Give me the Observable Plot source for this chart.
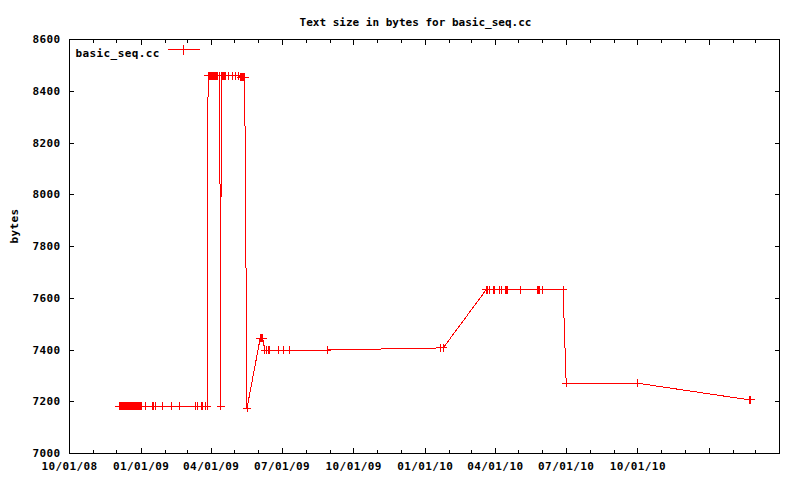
<!DOCTYPE html>
<html><head><meta charset="utf-8">
<script src="https://cdn.jsdelivr.net/npm/d3@7"></script>
<script src="https://cdn.jsdelivr.net/npm/@observablehq/plot@0.6"></script>
<style>html,body{margin:0;padding:0;background:#fff;}</style>
</head><body><div id="chart"></div>
<script>
const titleText = "Text size in bytes for basic_seq.cc";
const yLabel = "bytes";
const seriesName = "basic_seq.cc";

const dates = [
  "2008-12-04","2008-12-05","2008-12-06","2008-12-07","2008-12-08","2008-12-09","2008-12-10","2008-12-11","2008-12-12","2008-12-13","2008-12-14",
  "2008-12-16","2008-12-17","2008-12-18","2008-12-19","2008-12-20","2008-12-21","2008-12-22","2008-12-23","2008-12-24","2008-12-25","2008-12-26","2008-12-27","2008-12-28","2008-12-29","2008-12-30","2008-12-31","2009-01-01",
  "2009-01-06","2009-01-15","2009-01-17","2009-01-19","2009-01-28","2009-02-09","2009-02-19","2009-03-12","2009-03-14","2009-03-20","2009-03-21","2009-03-25","2009-03-27",
  "2009-03-28","2009-03-29","2009-03-30","2009-03-31","2009-04-01","2009-04-02","2009-04-03","2009-04-04","2009-04-05","2009-04-06","2009-04-07","2009-04-08","2009-04-09",
  "2009-04-12","2009-04-13","2009-04-14",
  "2009-04-16","2009-04-17","2009-04-18","2009-04-19","2009-04-20","2009-04-23","2009-04-28","2009-05-02","2009-05-06",
  "2009-05-09","2009-05-10","2009-05-11","2009-05-12","2009-05-13","2009-05-14",
  "2009-05-17",
  "2009-06-03","2009-06-05","2009-06-06",
  "2009-06-09","2009-06-11","2009-06-13","2009-06-15","2009-06-27","2009-07-03","2009-07-10","2009-08-28",
  "2010-01-20","2010-01-24",
  "2010-03-20","2010-03-22","2010-03-24","2010-03-29","2010-03-31","2010-04-06","2010-04-09","2010-04-14","2010-04-15","2010-04-16","2010-04-17","2010-05-03","2010-05-25","2010-05-26","2010-05-27","2010-05-28","2010-06-01","2010-06-27",
  "2010-07-01","2010-09-30",
  "2011-02-22","2011-02-23"
];
const bytes = [
  7182,7182,7182,7182,7182,7182,7182,7182,7182,7182,7182,
  7182,7182,7182,7182,7182,7182,7182,7182,7182,7182,7182,7182,7182,7182,7182,7182,7182,
  7182,7182,7182,7182,7182,7182,7182,7182,7182,7182,7182,7182,7182,
  8460,8460,8460,8460,8460,8460,8460,8460,8460,8460,8460,8460,8460,
  8460,7182,8460,
  8460,8460,8460,8460,8460,8460,8460,8460,8460,
  8455,8455,8455,8455,8455,8455,
  7175,
  7446,7446,7446,
  7400,7400,7400,7400,7400,7400,7400,7400,
  7408,7408,
  7632,7632,7632,7632,7632,7632,7632,7632,7632,7632,7632,7632,7632,7632,7632,7632,7632,7632,
  7272,7272,
  7207,7207
];

const yTicks = [7000, 7200, 7400, 7600, 7800, 8000, 8200, 8400, 8600];
const xMajorTicks = ["2008-10-01","2009-01-01","2009-04-01","2009-07-01","2009-10-01","2010-01-01","2010-04-01","2010-07-01","2010-10-01","2011-01-01","2011-04-01"];
const xLabelDates = ["2008-10-01","2009-01-01","2009-04-01","2009-07-01","2009-10-01","2010-01-01","2010-04-01","2010-07-01","2010-10-01"];
const xLabels = ["10/01/08","01/01/09","04/01/09","07/01/09","10/01/09","01/01/10","04/01/10","07/01/10","10/01/10"];
const xDomain = ["2008-10-01","2011-04-01"];

const parse = d3.utcParse("%Y-%m-%d");
const data = dates.map((d, i) => ({date: parse(d), bytes: bytes[i]}));
const majors = xMajorTicks.map(parse);
const minors = d3.utcMonth.range(parse(xDomain[0]), d3.utcDay.offset(parse(xDomain[1]), 1));
const labelDates = xLabelDates.map(parse);
const labelMap = new Map(labelDates.map((d, i) => [+d, xLabels[i]]));
// legend sample anchored at the top-left corner of the frame (domain corner), offset in pixels
const legendAnchor = [{date: parse(xDomain[0]), bytes: yTicks[yTicks.length - 1]}];

const plus = {draw(ctx, size) {
  const r = Math.sqrt(size / Math.PI);
  ctx.moveTo(-r, 0); ctx.lineTo(r, 0);
  ctx.moveTo(0, -r); ctx.lineTo(0, r);
}};
const legendSym = {draw(ctx) {
  ctx.moveTo(-16, 0); ctx.lineTo(16, 0);
  ctx.moveTo(0, -5); ctx.lineTo(0, 5);
}};
const crisp = {shapeRendering: "crispEdges"};
const red = "#ff0000";

const chart = Plot.plot({
  width: 800, height: 480,
  marginLeft: 69, marginRight: 21, marginTop: 39, marginBottom: 27,
  style: {fontFamily: "'DejaVu Sans Mono', monospace", fontSize: "11px", fontWeight: "bold", letterSpacing: "0.4px", background: "#fff", color: "#000"},
  x: {type: "utc", domain: xDomain.map(parse)},
  y: {domain: [yTicks[0], yTicks[yTicks.length - 1]]},
  marks: [
    Plot.axisX({anchor: "bottom", ticks: minors, tickSize: -3, fill: "none", label: null, ...crisp}),
    Plot.axisX({anchor: "top", ticks: minors, tickSize: -3, fill: "none", label: null, ...crisp}),
    Plot.axisX({anchor: "bottom", ticks: majors, tickSize: -5, fill: "none", label: null, ...crisp}),
    Plot.axisX({anchor: "top", ticks: majors, tickSize: -5, fill: "none", label: null, ...crisp}),
    Plot.axisX({anchor: "bottom", ticks: labelDates, tickSize: 0, tickPadding: 9, tickFormat: d => labelMap.get(+d), label: null}),
    Plot.axisY({anchor: "left", ticks: yTicks, tickSize: -5, fill: "none", label: null, ...crisp}),
    Plot.axisY({anchor: "right", ticks: yTicks, tickSize: -5, fill: "none", label: null, ...crisp}),
    Plot.axisY({anchor: "left", ticks: yTicks, tickSize: 0, tickPadding: 9, tickFormat: d => String(d), label: null}),
    Plot.frame({stroke: "#000", ...crisp}),
    Plot.line(data, {x: "date", y: "bytes", stroke: red, strokeWidth: 1, ...crisp}),
    Plot.dot(data, {x: "date", y: "bytes", symbol: plus, r: 4, stroke: red, strokeWidth: 1, fill: "none", ...crisp}),
    Plot.text([titleText], {text: d => d, frameAnchor: "top", dx: -9, dy: -21}),
    Plot.text([yLabel], {text: d => d, frameAnchor: "left", dx: -55, dy: -3, rotate: -90}),
    Plot.text([seriesName], {text: d => d, frameAnchor: "top-left", dx: 6, dy: 10, textAnchor: "start"}),
    Plot.dot(legendAnchor, {x: "date", y: "bytes", dx: 114, dy: 10, symbol: legendSym, stroke: red, strokeWidth: 1, fill: "none", ...crisp})
  ]
});
chart.querySelectorAll("text").forEach(t => { if (t.textContent === titleText) t.style.letterSpacing = "0px"; });
document.getElementById("chart").appendChild(chart);
</script>
</body></html>
